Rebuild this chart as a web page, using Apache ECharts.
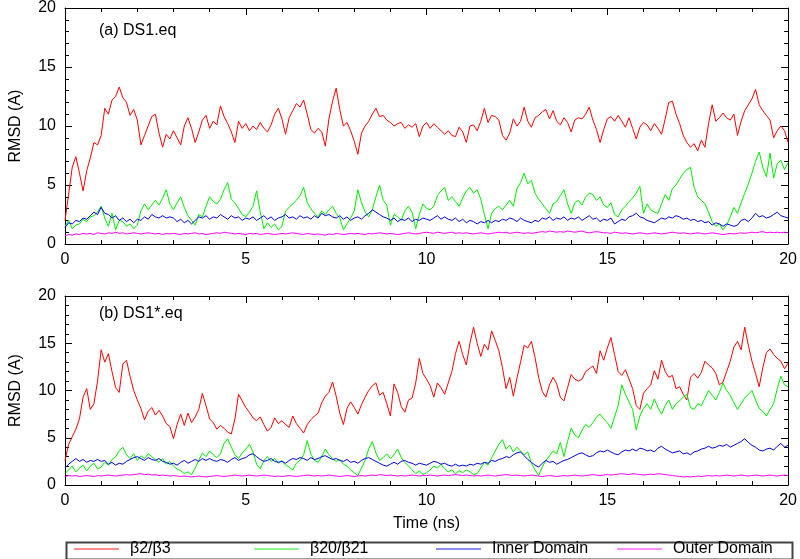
<!DOCTYPE html>
<html><head><meta charset="utf-8">
<script src="https://cdn.jsdelivr.net/npm/echarts@6/dist/echarts.min.js"></script>
<style>html,body{margin:0;padding:0;background:#fff}#c{width:800px;height:559px}</style>
</head><body><div id="c"></div>
<script>
// time axis: 0..20 ns sampled every 0.1 ns
const timeStep = 0.1;
const xTicks = [0, 5, 10, 15, 20];
const yTicks = [0, 5, 10, 15, 20];
const seriesNames = ['β2/β3', 'β20/β21', 'Inner Domain', 'Outer Domain'];
const panelTitles = ['(a) DS1.eq', '(b) DS1*.eq'];

// Panel (a) DS1.eq
const redA = [
2.0,4.2,6.5,7.4,6.0,4.5,6.2,7.3,8.6,8.4,
9.2,11.5,11.0,12.2,12.5,13.3,12.4,12.0,10.9,11.4,
10.5,8.4,9.2,10.0,10.8,11.0,9.4,8.2,9.3,8.9,
9.6,9.0,8.4,10.0,10.7,9.8,8.6,9.5,10.5,10.9,
9.8,10.4,10.1,11.7,10.8,10.2,9.5,8.6,10.4,9.8,
10.2,9.6,10.0,9.7,10.3,9.8,9.5,10.1,11.0,11.5,
10.6,9.3,10.7,11.3,11.9,11.6,12.2,11.0,9.7,9.4,
9.8,9.5,8.3,10.6,12.1,13.2,11.4,10.0,10.3,9.6,
8.7,7.6,9.4,10.0,10.4,11.0,11.5,10.8,10.9,10.5,
10.3,10.0,10.2,10.3,9.8,10.1,9.9,10.2,9.1,10.0,
10.3,9.8,10.2,9.9,9.6,9.3,9.6,9.2,9.1,9.9,
9.5,8.6,10.0,10.1,9.6,10.4,11.5,10.3,10.9,10.8,
10.5,9.2,8.8,9.4,10.6,10.0,10.4,11.6,10.4,9.9,
10.7,10.9,11.2,11.4,10.6,11.3,10.4,10.1,10.7,10.3,
9.5,10.5,10.7,10.6,11.0,11.6,10.5,9.7,8.6,9.7,
10.6,10.8,10.4,10.9,10.4,9.9,10.7,9.8,8.9,9.9,
10.3,10.1,9.6,10.2,9.8,9.3,10.6,12.0,12.1,11.0,
10.2,9.2,8.6,8.2,8.5,7.9,8.8,8.2,10.2,11.8,
10.4,10.7,11.1,10.7,10.5,11.0,9.2,10.4,11.3,11.8,
12.3,13.1,11.8,11.3,10.9,10.5,9.0,9.6,10.0,9.6,
8.6];
const greenA = [
1.5,2.0,1.3,1.6,1.7,2.1,1.9,2.3,2.4,2.7,
3.2,2.2,1.5,2.6,1.2,2.0,1.9,1.5,1.7,1.3,
1.6,2.8,3.4,2.9,3.3,3.7,3.3,3.9,4.6,3.4,
2.9,3.5,4.0,3.1,2.4,2.0,1.6,2.5,2.3,3.2,
4.0,3.6,3.4,3.8,4.6,5.2,3.8,3.5,3.0,2.5,
2.3,2.7,3.2,4.5,2.7,1.3,1.8,1.4,1.7,1.2,
1.5,2.8,3.1,3.4,3.7,4.1,4.8,3.5,3.0,2.6,
2.3,2.8,2.5,2.9,3.2,2.6,2.2,1.2,1.7,2.2,
2.8,4.6,3.5,2.7,2.3,2.9,4.0,5.0,3.7,3.3,
1.6,2.5,2.3,2.0,2.8,3.2,2.7,1.3,2.5,3.4,
3.0,2.9,3.2,4.1,4.5,4.8,3.7,4.0,3.6,3.2,
3.9,4.5,4.8,4.3,4.6,3.8,2.5,1.3,2.6,3.0,
3.2,2.9,3.3,3.7,3.2,4.7,5.2,6.0,5.1,5.4,
4.3,3.8,3.4,3.0,2.6,3.4,3.6,4.1,4.6,3.4,
2.6,3.5,3.7,3.3,4.0,4.3,4.2,3.7,4.0,3.3,
3.1,3.5,2.5,2.3,2.9,3.2,3.6,3.9,4.3,4.9,
2.6,3.4,2.9,2.7,2.6,3.4,4.2,3.7,4.7,5.0,
5.5,6.0,6.3,6.5,4.8,4.0,3.7,3.4,2.7,1.9,
1.5,1.7,1.2,1.6,2.3,3.1,2.6,3.5,4.3,5.1,
6.0,7.0,7.8,6.5,5.7,7.7,5.6,6.8,7.1,6.3,
6.9];
const blueA = [
1.4,1.8,1.7,2.0,1.9,2.2,2.1,2.4,2.7,2.5,
3.1,2.6,2.5,2.2,2.4,2.0,2.2,1.9,2.1,1.8,
2.1,2.0,2.3,2.1,2.5,2.3,2.2,2.4,2.2,2.3,
2.2,1.9,2.1,1.8,2.0,1.7,2.0,2.3,2.2,2.4,
2.1,2.3,2.2,2.5,2.3,2.1,2.4,2.2,2.3,2.0,
2.2,2.1,2.3,2.0,2.2,2.4,2.1,2.3,2.0,2.2,
2.3,2.5,2.2,2.3,2.1,2.4,2.2,2.3,2.1,2.4,
2.2,2.6,2.4,2.5,2.3,2.2,2.4,2.1,2.3,2.0,
2.2,2.3,2.1,2.4,2.6,2.9,2.7,2.5,2.3,2.2,
2.0,2.2,1.9,2.1,2.0,2.2,1.9,2.1,2.0,2.2,
2.1,2.0,2.2,2.4,2.1,2.3,2.1,2.0,2.2,1.9,
2.1,1.8,2.0,1.9,1.7,1.9,1.8,2.0,1.8,2.0,
1.9,2.1,2.0,2.2,2.1,1.9,2.2,2.0,1.9,1.8,
2.0,1.9,2.2,2.1,2.3,2.0,2.2,2.1,2.3,2.0,
2.2,2.1,2.3,2.0,2.2,2.4,2.1,2.2,1.9,2.1,
2.0,2.2,1.7,1.9,2.1,2.0,2.3,2.4,2.6,2.3,
2.2,2.0,1.9,1.8,2.0,2.2,2.1,2.3,2.2,2.4,
2.3,2.1,2.2,2.0,2.1,1.9,2.0,1.8,1.9,1.6,
1.8,1.7,1.5,1.7,1.6,1.5,1.6,2.0,2.1,1.9,
2.2,2.6,2.3,2.4,2.2,2.3,2.5,2.7,2.4,2.3,
2.2];
const magentaA = [
0.7,0.8,0.75,0.85,0.8,0.9,0.85,0.9,0.8,0.95,
0.9,0.85,0.95,0.9,1.0,0.9,0.95,0.85,0.9,0.95,
0.9,0.85,0.9,0.95,0.9,0.85,0.9,0.8,0.9,0.85,
0.9,0.85,0.8,0.9,0.85,0.9,0.95,0.85,0.9,0.8,
0.85,0.9,0.95,0.9,1.0,0.95,0.9,0.85,0.9,0.85,
0.8,0.9,0.85,0.9,0.8,0.85,0.9,0.85,0.8,0.85,
0.9,0.85,0.9,0.95,0.9,0.85,0.8,0.9,0.85,0.8,
0.85,0.8,0.75,0.85,0.8,0.9,0.85,0.8,0.85,0.9,
0.85,0.9,0.85,0.8,0.9,0.85,0.9,0.95,0.9,0.85,
0.9,0.85,0.8,0.85,0.9,0.95,0.9,0.85,0.9,0.95,
1.0,0.95,0.9,1.0,0.95,0.9,0.95,1.0,0.9,0.95,
0.9,0.95,0.9,0.85,0.9,0.95,0.9,0.85,0.9,0.95,
1.0,0.95,1.0,0.9,0.95,1.0,0.95,0.9,0.95,0.9,
0.95,1.0,1.05,1.0,1.1,1.05,1.0,1.05,1.0,1.1,
1.05,1.0,1.05,1.1,1.0,0.95,1.0,1.05,1.0,0.95,
0.95,0.9,1.0,0.95,0.9,0.95,0.9,0.85,0.9,0.95,
0.9,0.85,0.9,0.95,0.9,0.85,0.9,0.95,1.0,0.95,
0.9,0.95,0.9,0.85,0.9,0.95,0.9,0.85,0.9,0.95,
0.9,0.85,0.8,0.85,0.9,0.85,0.9,0.95,0.9,0.95,
1.0,0.95,1.0,1.05,0.95,1.0,0.95,1.0,0.95,1.0,
0.95];

// Panel (b) DS1*.eq
const redB = [
2.6,4.3,5.1,5.9,7.0,9.3,10.2,8.0,8.6,11.0,
14.3,13.0,13.9,12.0,10.3,9.8,12.8,13.2,11.5,10.0,
9.0,8.1,6.9,7.8,8.2,7.4,7.9,7.3,6.5,6.2,
4.9,6.4,7.5,6.3,7.6,6.6,7.2,8.0,9.7,8.4,
7.0,6.6,5.9,6.3,6.0,5.6,5.4,7.0,9.6,8.9,
8.2,7.7,7.1,6.8,7.2,6.4,5.7,6.1,7.1,6.5,
6.8,6.4,6.1,7.3,6.5,6.0,5.5,6.4,6.9,7.3,
7.6,8.7,9.4,9.8,10.9,9.4,7.6,6.4,8.1,8.8,
8.2,7.5,8.5,9.3,10.0,10.5,10.8,9.5,9.8,8.6,
7.3,10.7,9.8,8.3,7.7,9.0,9.2,10.8,13.4,11.8,
11.2,10.5,9.3,10.8,10.3,9.6,10.8,12.0,13.9,15.2,
13.8,12.7,15.0,16.7,15.0,13.6,14.9,14.3,16.3,15.3,
14.2,12.4,10.2,11.4,9.4,11.3,13.0,14.8,14.5,15.2,
13.5,11.4,9.9,9.3,10.6,11.4,10.7,9.3,8.9,10.3,
11.7,11.2,11.0,11.2,12.0,12.3,12.6,11.8,14.2,13.2,
14.5,15.6,13.8,12.0,11.6,12.2,11.2,10.2,8.4,8.0,
9.7,10.2,10.6,12.1,11.2,13.2,12.0,11.4,11.6,10.2,
10.4,9.6,9.0,11.4,11.8,11.3,11.9,13.1,12.7,12.4,
11.8,10.6,10.9,12.0,13.1,14.6,15.2,14.3,16.7,14.8,
13.1,11.8,10.4,12.4,14.0,14.4,13.8,13.4,13.1,12.3,
12.9];
const greenB = [
1.2,1.6,2.0,1.4,1.8,2.1,1.5,2.0,2.3,1.7,
1.9,2.4,2.1,2.7,3.0,3.6,4.0,3.2,2.8,3.3,
2.6,3.1,2.8,3.3,3.0,2.7,2.4,2.8,2.2,2.5,
2.0,1.7,1.5,1.2,1.4,1.1,1.8,2.6,3.4,3.0,
3.6,3.2,2.9,3.3,4.4,4.9,4.0,3.2,2.8,3.4,
3.8,4.3,3.5,2.2,1.7,2.6,3.0,2.5,2.8,2.3,
2.6,2.1,1.9,1.6,2.3,2.6,3.2,4.7,3.3,2.6,
2.4,3.0,3.8,3.2,2.8,2.5,2.7,2.2,2.0,1.6,
1.3,1.0,1.8,2.6,3.8,4.6,3.4,2.6,2.9,3.3,
2.8,3.2,3.8,2.9,2.4,2.0,1.6,1.2,1.5,1.1,
1.3,1.6,2.0,1.8,2.2,1.7,1.4,1.6,1.2,1.5,
1.3,1.6,1.4,1.1,1.2,1.8,2.4,2.1,2.9,3.6,
4.3,4.8,3.8,4.2,3.5,4.0,3.6,3.2,3.5,2.3,
1.6,1.0,1.9,2.6,3.1,3.6,3.3,4.5,3.0,4.6,
6.0,5.3,5.0,5.8,6.4,6.1,6.6,7.2,7.5,7.0,
6.6,6.0,7.2,8.4,10.6,9.6,8.8,8.0,5.8,7.3,
8.1,8.6,8.0,9.1,8.2,7.5,8.4,9.0,8.0,8.6,
8.9,9.3,9.6,8.2,8.0,8.6,8.4,9.2,10.0,9.5,
9.0,9.8,10.8,10.0,9.5,8.7,8.0,8.6,9.2,9.6,
10.0,9.0,8.1,7.8,7.3,8.0,8.6,10.2,11.5,10.6,
10.4];
const blueB = [
1.8,2.2,2.5,2.8,2.5,2.7,2.4,2.6,2.5,2.7,
2.5,2.6,2.2,2.4,2.1,2.3,2.2,2.5,2.7,2.9,
3.0,2.8,2.6,2.9,2.7,2.6,2.8,2.5,2.4,2.2,
2.3,2.1,2.4,2.6,2.3,2.5,2.7,2.5,2.8,2.6,
2.8,2.6,2.5,2.7,2.6,2.4,2.7,2.9,2.6,2.8,
2.9,3.2,3.3,3.0,2.7,2.5,2.6,2.8,2.5,2.4,
2.5,2.3,2.6,2.8,2.7,2.9,2.8,2.6,2.9,2.7,
2.8,3.0,3.1,2.9,2.7,2.8,2.6,2.5,2.7,2.4,
2.5,2.3,2.6,2.8,2.9,2.7,2.5,2.3,2.1,2.0,
2.2,2.4,2.2,2.5,2.6,2.4,2.3,2.1,2.3,2.2,
2.1,2.3,2.5,2.4,2.2,2.3,2.1,2.0,2.2,2.0,
2.1,2.0,2.2,2.1,2.3,2.2,2.4,2.3,2.6,2.5,
2.7,2.8,3.0,2.9,3.2,3.4,3.5,3.1,2.7,2.4,
2.1,1.9,2.3,2.6,2.4,2.5,2.2,2.4,2.6,2.7,
2.9,3.1,3.3,3.4,3.2,3.0,3.1,3.4,3.6,3.5,
3.7,3.5,3.3,3.2,3.5,3.7,3.6,3.8,3.6,3.9,
3.8,3.6,3.7,3.5,3.9,4.1,3.8,3.6,3.4,3.5,
3.6,3.3,3.4,3.2,3.5,3.6,3.8,3.9,4.1,3.9,
4.0,4.2,4.1,4.3,4.0,4.2,4.4,4.6,4.9,4.5,
4.2,4.0,3.7,3.6,3.8,3.9,3.7,4.1,4.4,4.0,
4.2];
const magentaB = [
0.9,1.0,0.95,1.0,0.9,0.95,1.0,0.95,0.9,1.0,
0.95,1.0,1.05,1.0,0.95,1.0,1.05,1.1,1.05,1.1,
1.15,1.2,1.1,1.15,1.05,1.1,1.0,1.05,1.0,0.95,
1.0,0.95,0.9,0.95,0.9,0.85,0.9,0.95,0.9,0.85,
0.9,0.95,1.0,0.95,0.9,0.95,1.0,1.05,1.0,0.95,
1.0,1.05,1.0,0.95,1.0,1.05,1.0,0.95,0.9,0.95,
0.9,0.95,1.0,0.95,0.9,0.95,1.0,1.05,1.0,0.95,
1.0,0.95,1.0,1.05,1.0,0.95,0.9,0.95,1.0,0.95,
0.9,0.95,1.0,0.95,1.0,1.05,1.0,1.1,1.05,1.0,
1.05,1.0,0.95,1.0,0.95,1.0,1.05,1.0,0.95,1.0,
1.0,1.05,1.0,0.95,1.0,1.05,1.0,1.05,1.1,1.05,
1.0,1.05,1.0,0.95,1.0,0.95,1.0,1.05,1.0,0.95,
1.0,1.05,1.1,1.05,1.0,1.05,1.0,0.95,1.0,1.05,
1.0,0.95,0.9,0.95,1.0,0.95,0.9,0.95,1.0,0.95,
1.0,1.05,1.0,0.95,1.0,1.05,1.1,1.05,1.0,1.05,
1.1,1.05,1.1,1.15,1.2,1.15,1.1,1.2,1.15,1.1,
1.05,1.1,1.15,1.1,1.2,1.15,1.1,1.05,1.0,0.95,
0.9,0.85,0.9,0.85,0.9,0.95,0.9,0.95,1.0,0.95,
1.0,0.95,1.0,1.05,1.0,0.95,1.0,1.05,1.0,0.95,
1.0,1.05,1.0,0.95,1.0,1.05,1.0,0.95,1.0,1.05,
1.0];

const colors = ['#ff0000', '#00ee00', '#0000e0', '#ff00ff'];
const panels = [[redA, greenA, blueA, magentaA], [redB, greenB, blueB, magentaB]];

function pairs(arr) { return arr.map((v, i) => [Math.round(i * timeStep * 100) / 100, v]); }

const FONT = "'Liberation Sans', Arial, sans-serif";
const grids = [
  { left: 62.5, right: 10.5, top: 7, height: 237 },
  { left: 62.5, right: 10.5, top: 296, height: 189 }
];

function xAx(gi, pos, labels, name) {
  return {
    type: 'value', gridIndex: gi, position: pos, min: xTicks[0], max: xTicks[xTicks.length - 1],
    interval: xTicks[1] - xTicks[0],
    axisLine: { show: true, onZero: false, lineStyle: { color: '#000', width: 1 } },
    axisTick: { show: true, inside: true, length: 7, lineStyle: { color: '#000' } },
    minorTick: { show: true, splitNumber: 5, length: 4, lineStyle: { color: '#000' } },
    splitLine: { show: false },
    axisLabel: { show: labels, color: '#000', fontSize: 16, fontFamily: FONT, margin: 8 },
    name: name || '', nameLocation: 'middle', nameGap: 31,
    nameTextStyle: { color: '#000', fontSize: 16, fontFamily: FONT }
  };
}
function yAx(gi, pos, labels) {
  return {
    type: 'value', gridIndex: gi, position: pos, min: yTicks[0], max: yTicks[yTicks.length - 1],
    interval: yTicks[1] - yTicks[0],
    axisLine: { show: true, onZero: false, lineStyle: { color: '#000', width: 1 } },
    axisTick: { show: true, inside: true, length: 7, lineStyle: { color: '#000' } },
    minorTick: { show: true, splitNumber: 5, length: 4, lineStyle: { color: '#000' } },
    splitLine: { show: false },
    axisLabel: { show: labels, color: '#000', fontSize: 16, fontFamily: FONT, margin: 9 },
    name: labels ? 'RMSD (A)' : '', nameLocation: 'middle', nameGap: 41, nameRotate: 90,
    nameTextStyle: { color: '#000', fontSize: 16, fontFamily: FONT }
  };
}

const xAxis = [xAx(0, 'bottom', true), xAx(0, 'top', false), xAx(1, 'bottom', true, 'Time (ns)'), xAx(1, 'top', false)];
const yAxis = [yAx(0, 'left', true), yAx(0, 'right', false), yAx(1, 'left', true), yAx(1, 'right', false)];

const series = [];
panels.forEach((p, pi) => {
  p.forEach((arr, si) => {
    series.push({
      type: 'line', name: seriesNames[si], xAxisIndex: pi * 2, yAxisIndex: pi * 2,
      data: pairs(arr), symbol: 'none', showSymbol: false, silent: true,
      lineStyle: { color: colors[si], width: 1 }, itemStyle: { color: colors[si] }
    });
  });
});

const legendLefts = [74, 254, 436, 617];
const legend = seriesNames.map((n, i) => ({
  data: [n], left: legendLefts[i], top: 541, itemWidth: 45, itemHeight: 2, padding: 0,
  icon: 'rect', selectedMode: false,
  itemStyle: { opacity: 0.45 },
  textStyle: { color: '#000', fontSize: 16, fontFamily: FONT, padding: [0, 0, 0, 6] }
}));

const chart = echarts.init(document.getElementById('c'), null, { renderer: 'canvas' });
chart.setOption({
  animation: false,
  backgroundColor: '#fff',
  grid: grids,
  xAxis: xAxis,
  yAxis: yAxis,
  legend: legend,
  series: series,
  graphic: [
    { type: 'text', left: 99, top: 23, style: { text: panelTitles[0], fill: '#000', font: '16px ' + FONT } },
    { type: 'text', left: 99, top: 306, style: { text: panelTitles[1], fill: '#000', font: '16px ' + FONT } },
    { type: 'rect', left: 64, top: 540, shape: { x: 0, y: 0, width: 726, height: 17 }, style: { fill: 'none', stroke: '#444', lineWidth: 2 }, silent: true }
  ]
});
</script>
</body></html>
